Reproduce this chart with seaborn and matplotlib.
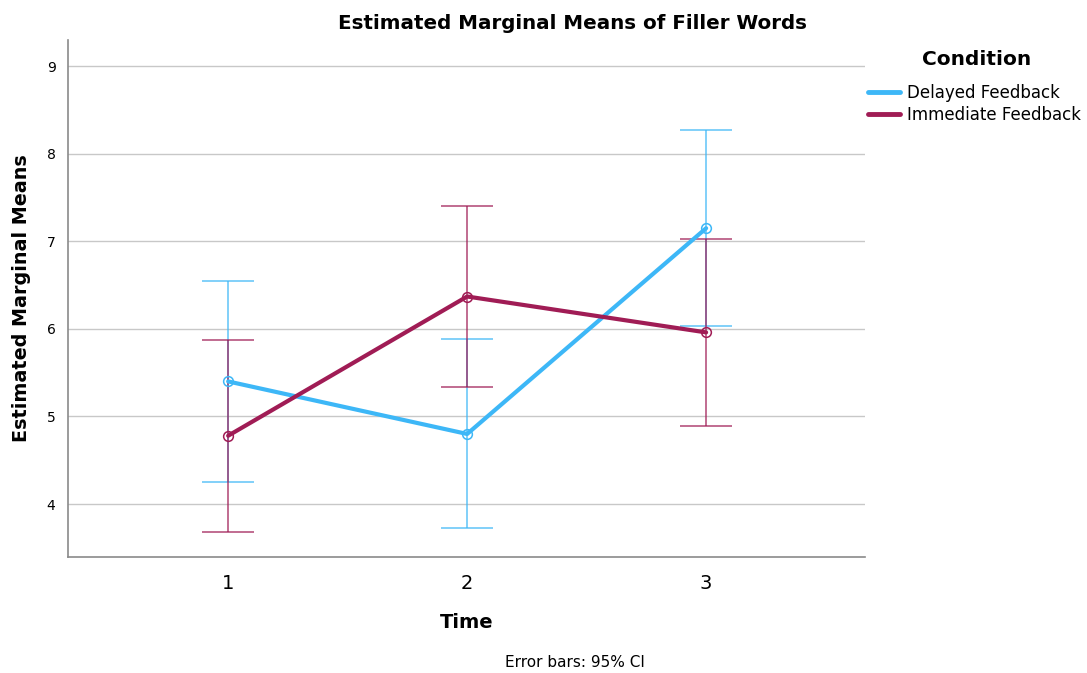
import numpy as np
import pandas as pd
import matplotlib
matplotlib.use("Agg")
import matplotlib.pyplot as plt
import seaborn as sns

# values
times = [1, 2, 3]
conditions = ["Delayed Feedback", "Immediate Feedback"]
delayed_mean = [5.40, 4.80, 7.15]
delayed_lo = [4.25, 3.73, 6.03]
delayed_hi = [6.55, 5.88, 8.27]
immediate_mean = [4.78, 6.37, 5.96]
immediate_lo = [3.68, 5.34, 4.89]
immediate_hi = [5.87, 7.40, 7.03]

colors = {"Delayed Feedback": "#3DB7F7", "Immediate Feedback": "#A01C55"}

df = pd.DataFrame({
    "Time": times * 2,
    "Mean": delayed_mean + immediate_mean,
    "Lo": delayed_lo + immediate_lo,
    "Hi": delayed_hi + immediate_hi,
    "Condition": [conditions[0]] * 3 + [conditions[1]] * 3,
})

sns.set_style("white")
plt.rcParams["font.family"] = ["DejaVu Sans"]
plt.rcParams["text.color"] = "black"
plt.rcParams["axes.labelcolor"] = "black"
plt.rcParams["xtick.color"] = "black"
plt.rcParams["ytick.color"] = "black"

fig = plt.figure(figsize=(10.87, 6.73), dpi=100)
ax = fig.add_axes([0.0626, 0.1724, 0.7332, 0.7682])

# error bars first so the lines sit on top
for cond in conditions:
    sub = df[df["Condition"] == cond]
    yerr = [sub["Mean"] - sub["Lo"], sub["Hi"] - sub["Mean"]]
    ax.errorbar(sub["Time"], sub["Mean"], yerr=yerr, fmt="none",
                ecolor=colors[cond], elinewidth=1.3, capsize=18.5,
                capthick=1.3, alpha=0.7, zorder=2)

n_before = len(ax.lines)
sns.lineplot(data=df, x="Time", y="Mean", hue="Condition", palette=colors,
             hue_order=conditions, marker="o", markersize=7,
             markerfacecolor="none", linewidth=3, ax=ax, zorder=3,
             legend=False)
for line in ax.lines[n_before:]:
    line.set_markeredgecolor(line.get_color())
    line.set_markeredgewidth(1.1)

ax.set_xlim(0.33, 3.665)
ax.set_ylim(3.395, 9.30)
ax.set_xticks(times)
ax.set_xticklabels([str(t) for t in times], fontsize=14)
ax.set_yticks([4, 5, 6, 7, 8, 9])
ax.set_yticklabels(["4", "5", "6", "7", "8", "9"], fontsize=10)
ax.tick_params(axis="x", length=0, pad=12)
ax.tick_params(axis="y", length=0, pad=9)

ax.grid(axis="y", color="#c8c8c8", linewidth=1)
ax.set_axisbelow(True)
for s in ["top", "right"]:
    ax.spines[s].set_visible(False)
for s in ["left", "bottom"]:
    ax.spines[s].set_color("#8a8a8a")
    ax.spines[s].set_linewidth(1.2)

fig.text(0.527, 0.965, "Estimated Marginal Means of Filler Words",
         ha="center", va="center", fontsize=14.3, fontweight="bold")
ax.set_xlabel("Time", fontsize=14, fontweight="bold", labelpad=15)
ax.set_ylabel("Estimated Marginal Means", fontsize=13.8, fontweight="bold",
              labelpad=11)

# legend: title drawn separately to match the SPSS spacing
fig.text(0.898, 0.911, "Condition", ha="center", va="center",
         fontsize=14.5, fontweight="bold")
handles = [plt.Line2D([0], [0], color=colors[c], linewidth=3.5) for c in conditions]
fig.legend(handles, conditions, loc="upper left",
           bbox_to_anchor=(0.7985, 0.875), frameon=False, fontsize=12,
           handlelength=1.9, handletextpad=0.42, labelspacing=0.25,
           borderaxespad=0, borderpad=0)

fig.text(0.529, 0.0163, "Error bars: 95% CI", ha="center", va="center",
         fontsize=11)

fig.savefig("out.png", dpi=100)
